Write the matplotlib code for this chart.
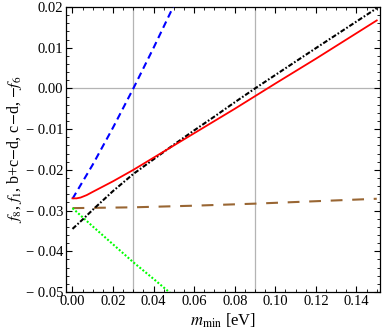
import matplotlib
matplotlib.use("Agg")
import matplotlib.pyplot as plt
from matplotlib.ticker import MultipleLocator, FuncFormatter

# values
m_red = [0.0, 0.002, 0.004, 0.007, 0.01, 0.015, 0.02, 0.03, 0.04, 0.05, 0.06, 0.07,
         0.08, 0.09, 0.10, 0.12, 0.15]
f_red = [-0.0270, -0.0270, -0.0268, -0.0262, -0.0254, -0.0241, -0.0228, -0.0200,
         -0.0170, -0.0140, -0.0110, -0.0080, -0.0050, -0.0019, 0.0012, 0.0073, 0.0167]

m_black = [0.0, 0.005, 0.01, 0.02, 0.03, 0.04, 0.05, 0.06, 0.07, 0.08, 0.09,
           0.10, 0.12, 0.15]
f_black = [-0.0345, -0.0322, -0.0298, -0.0252, -0.0210, -0.0174, -0.0138, -0.0103,
           -0.0069, -0.0034, 0.0, 0.0033, 0.0099, 0.0197]

m_blue = [0.0, 0.01, 0.02, 0.03, 0.04, 0.05]
f_blue = [-0.0271, -0.0187, -0.0096, 0.0, 0.0100, 0.0204]

m_green = [0.0, 0.01, 0.02, 0.03, 0.04, 0.05]
f_green = [-0.0294, -0.0339, -0.0383, -0.0427, -0.0468, -0.0510]

m_brown = [0.0, 0.03, 0.06, 0.09, 0.12, 0.15]
f_brown = [-0.0294, -0.0292, -0.0288, -0.0283, -0.0277, -0.0271]

grid_x = [0.03, 0.09]
grid_y = [0.0]

plt.rcParams["font.family"] = ["Liberation Serif", "DejaVu Serif"]
plt.rcParams["mathtext.fontset"] = "stix"
plt.rcParams["lines.scale_dashes"] = False


def tick_fmt(v, pos):
    # Mathematica style: wide minus followed by a small gap
    s = "%.2f" % abs(v)
    if v < -1e-9:
        return "\u2212 " + s
    return s


fig = plt.figure(figsize=(3.82, 3.33), dpi=100)
ax = fig.add_axes([66 / 382, 1 - 292 / 333, 314 / 382, 285 / 333])

for gx in grid_x:
    ax.axvline(gx, color="#b4b4b4", lw=0.9, zorder=1)
for gy in grid_y:
    ax.axhline(gy, color="#b4b4b4", lw=0.9, zorder=1)

ax.plot(m_brown, f_brown, color="#996633", lw=1.5, dashes=(8.5, 7.0), zorder=3)
ax.plot(m_green, f_green, color="#00ff00", lw=1.5, dashes=(1.4, 1.4), zorder=3)
ax.plot(m_blue, f_blue, color="#0000ff", lw=1.5, dashes=(5.0, 3.2), zorder=3)
ax.plot(m_black, f_black, color="black", lw=1.5, dashes=(3.5, 1.4, 1.2, 1.4), zorder=4)
ax.plot(m_red, f_red, color="#ff0000", lw=1.3, zorder=5)

ax.set_xlim(-0.0032, 0.1516)
ax.set_ylim(-0.05, 0.02)

ax.xaxis.set_major_locator(MultipleLocator(0.02))
ax.xaxis.set_minor_locator(MultipleLocator(0.005))
ax.yaxis.set_major_locator(MultipleLocator(0.01))
ax.yaxis.set_minor_locator(MultipleLocator(0.002))
ax.xaxis.set_major_formatter(FuncFormatter(tick_fmt))
ax.yaxis.set_major_formatter(FuncFormatter(tick_fmt))

ax.tick_params(which="both", direction="in", top=True, right=True,
               labelsize=10.5, color="black")
ax.tick_params(which="major", length=4.5, width=0.8)
ax.tick_params(which="minor", length=2.5, width=0.6)
ax.tick_params(axis="x", pad=2)
ax.tick_params(axis="y", pad=2)
for s in ax.spines.values():
    s.set_linewidth(0.9)

ax.set_xlabel(r"$m_{\rm min}$ [eV]", fontsize=12, labelpad=3)
ax.set_ylabel(r"$f_8$, $f_1$, b+c$-$d, c$-$d, $-f_6$", fontsize=11.5, labelpad=1)

fig.savefig("out.png", dpi=100)
